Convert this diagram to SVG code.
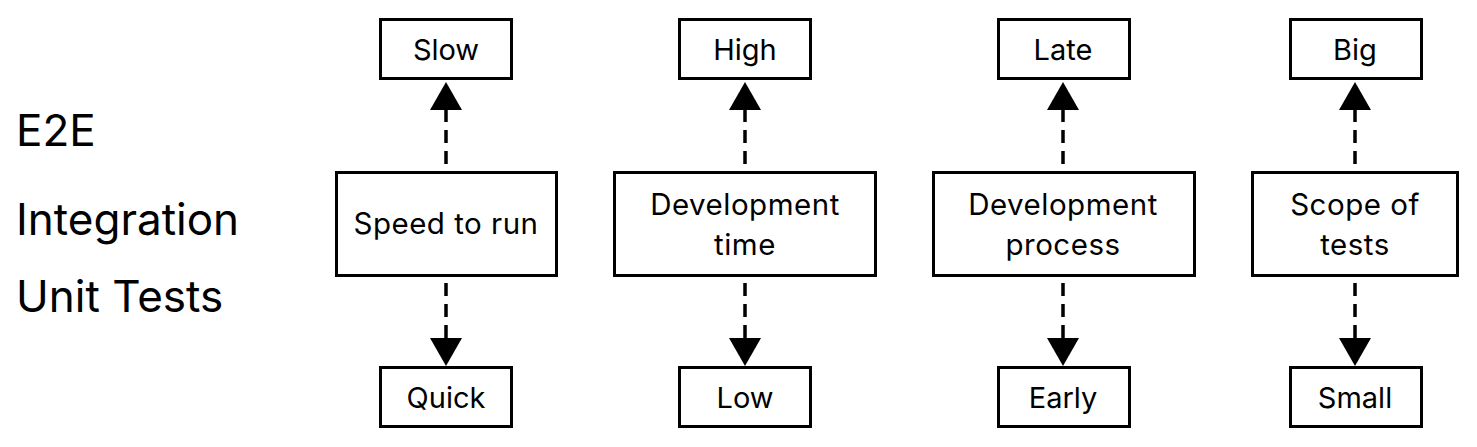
<svg xmlns="http://www.w3.org/2000/svg" width="1477" height="447" viewBox="0 0 1477 447">
<style>
.box{fill:#fff;stroke:#000;stroke-width:3}
.t{font-family:Inter,"Liberation Sans",sans-serif;font-size:29px;fill:#000;text-anchor:middle}
.m{font-family:Inter,"Liberation Sans",sans-serif;font-size:29.5px;letter-spacing:0.5px;fill:#000;text-anchor:middle}
.lbl{font-family:Inter,"Liberation Sans",sans-serif;font-size:44px;fill:#000}
.dash{stroke:#000;stroke-width:3.5;stroke-dasharray:13 8;fill:none}
</style>
<defs>
<marker id="ah" viewBox="0 0 28 32" refX="0" refY="16" markerWidth="28" markerHeight="32" markerUnits="userSpaceOnUse" orient="auto">
<path d="M0,0 L28,16 L0,32 z" fill="#000"/>
</marker>
</defs>
<rect width="1477" height="447" fill="#fff"/>
<g id="labels">
<text class="lbl" x="16" y="146">E2E</text>
<text class="lbl" x="16" y="235">Integration</text>
<text class="lbl" x="16" y="312">Unit Tests</text>
</g>
<g id="connectors">
<line class="dash" x1="446" y1="164" x2="446" y2="110" marker-end="url(#ah)"/>
<line class="dash" x1="446" y1="283" x2="446" y2="338" marker-end="url(#ah)"/>
<line class="dash" x1="745" y1="164" x2="745" y2="110" marker-end="url(#ah)"/>
<line class="dash" x1="745" y1="283" x2="745" y2="338" marker-end="url(#ah)"/>
<line class="dash" x1="1063" y1="164" x2="1063" y2="110" marker-end="url(#ah)"/>
<line class="dash" x1="1063" y1="283" x2="1063" y2="338" marker-end="url(#ah)"/>
<line class="dash" x1="1355" y1="164" x2="1355" y2="110" marker-end="url(#ah)"/>
<line class="dash" x1="1355" y1="283" x2="1355" y2="338" marker-end="url(#ah)"/>
</g>
<g id="slow"><rect class="box" x="380.5" y="19.5" width="131" height="59"/><text class="t" x="446" y="60">Slow</text></g>
<g id="speed"><rect class="box" x="336.5" y="172.5" width="220" height="103"/><text class="m" x="446" y="234">Speed to run</text></g>
<g id="quick"><rect class="box" x="380.5" y="367.5" width="131" height="59"/><text class="t" x="446" y="408">Quick</text></g>

<g id="high"><rect class="box" x="679.5" y="19.5" width="131" height="59"/><text class="t" x="745" y="60">High</text></g>
<g id="devtime"><rect class="box" x="614.5" y="172.5" width="261" height="103"/><text class="m" x="745" y="215">Development</text><text class="m" x="745" y="255">time</text></g>
<g id="low"><rect class="box" x="679.5" y="367.5" width="131" height="59"/><text class="t" x="745" y="408">Low</text></g>

<g id="late"><rect class="box" x="998.5" y="19.5" width="131" height="59"/><text class="t" x="1063" y="60">Late</text></g>
<g id="devprocess"><rect class="box" x="933.5" y="172.5" width="261" height="103"/><text class="m" x="1063" y="215">Development</text><text class="m" x="1063" y="255">process</text></g>
<g id="early"><rect class="box" x="998.5" y="367.5" width="131" height="59"/><text class="t" x="1063" y="408">Early</text></g>

<g id="big"><rect class="box" x="1290.5" y="19.5" width="131" height="59"/><text class="t" x="1355" y="60">Big</text></g>
<g id="scope"><rect class="box" x="1252.5" y="172.5" width="205" height="103"/><text class="m" x="1355" y="215">Scope of</text><text class="m" x="1355" y="255">tests</text></g>
<g id="small"><rect class="box" x="1290.5" y="367.5" width="131" height="59"/><text class="t" x="1355" y="408">Small</text></g>
</svg>
